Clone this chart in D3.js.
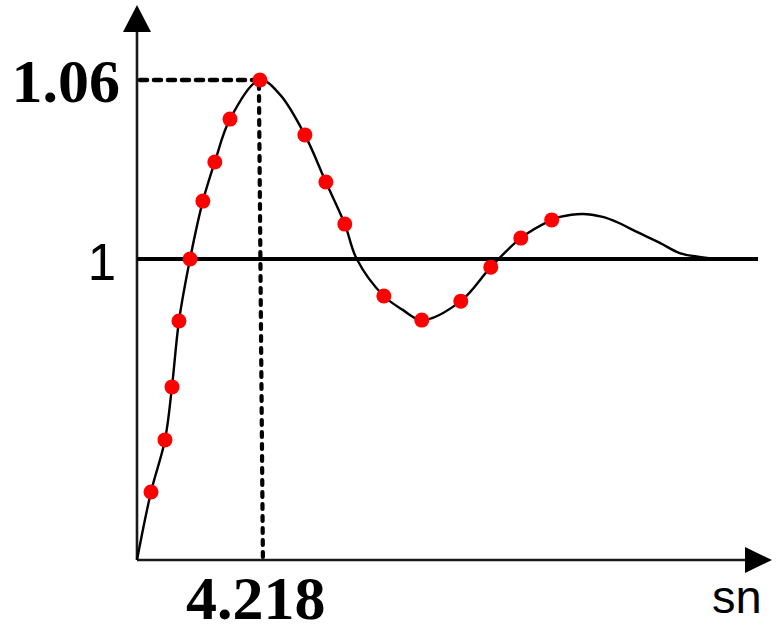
<!DOCTYPE html>
<html><head><meta charset="utf-8">
<script src="https://cdn.jsdelivr.net/npm/d3@7"></script>
<style>html,body{margin:0;padding:0;background:#fff;}svg{display:block;}</style>
</head><body>
<script>
// Schematic step response (y axis is schematic: 0..1 and 1..1.06 drawn on different scales)
const peakX = 4.218, peakY = 1.06, refY = 1;
const markerX = [0.48,0.96,1.20,1.44,1.82,2.26,2.67,3.19,4.218,5.76,6.48,7.13,8.47,9.77,11.11,12.14,13.17,14.23];
const markerY = [0.226,0.399,0.575,0.794,1.0,1.0194,1.0325,1.0469,1.06,1.0416,1.0258,1.0117,0.877,0.797,0.860,0.973,1.0070,1.0131];
const extraX = [0,4.90,7.54,9.12,14.51,15.29,15.98,16.46,17.15,17.94,18.62,19.31,19.89];
const extraY = [0,1.0552,1.0,0.831,1.0141,1.0151,1.0141,1.0124,1.0091,1.0054,1.0020,1.0007,1.0];
const yTickLabels = ["1.06","1"];
const xTickLabels = ["4.218"];
const xAxisLabel = "sn";

const W = 777, H = 627;
const svg = d3.select("body").append("svg").attr("width", W).attr("height", H);
const x = d3.scaleLinear().domain([0, 21]).range([137, 749]);
const y = d3.scaleLinear().domain([0, 1, 1.06]).range([560, 259, 80]);

// axes
svg.append("line").attr("x1", x(0)).attr("x2", x(0)).attr("y1", y(0)).attr("y2", 28)
  .attr("stroke", "#1a1a1a").attr("stroke-width", 2.6);
svg.append("path").attr("d", `M${x(0)},5 L${x(0)-14},32 L${x(0)+14},32 Z`).attr("fill", "#000");
svg.append("line").attr("x1", x(0)).attr("x2", 748).attr("y1", y(0)).attr("y2", y(0))
  .attr("stroke", "#1a1a1a").attr("stroke-width", 2.6);
svg.append("path").attr("d", `M772,${y(0)} L745,${y(0)-13} L745,${y(0)+13} Z`).attr("fill", "#000");

// reference line at 1
svg.append("line").attr("x1", x(0)).attr("x2", 758).attr("y1", y(refY)).attr("y2", y(refY))
  .attr("stroke", "#000").attr("stroke-width", 4);

// dashed guides
svg.append("line").attr("x1", x(0)+3).attr("x2", x(peakX)).attr("y1", y(peakY)).attr("y2", y(peakY))
  .attr("stroke", "#000").attr("stroke-width", 4.5).attr("stroke-dasharray", "7,7")
  .attr("stroke-linecap", "round");
svg.append("line").attr("x1", x(peakX)-1).attr("x2", x(peakX)+3).attr("y1", y(peakY)+4).attr("y2", y(0))
  .attr("stroke", "#000").attr("stroke-width", 4.2).attr("stroke-dasharray", "5,7")
  .attr("stroke-linecap", "round");

// curve
const pts = markerX.map((d,i)=>[d, markerY[i]]).concat(extraX.map((d,i)=>[d, extraY[i]]))
  .sort((a,b)=>a[0]-b[0]);
const line = d3.line().x(d=>x(d[0])).y(d=>y(d[1])).curve(d3.curveCatmullRom.alpha(0.5));
svg.append("path").attr("d", line(pts)).attr("fill", "none").attr("stroke", "#000").attr("stroke-width", 2.4);

// markers
svg.selectAll("circle.m").data(markerX.map((d,i)=>[d, markerY[i]])).enter().append("circle")
  .attr("class","m").attr("cx", d=>x(d[0])).attr("cy", d=>y(d[1])).attr("r", 7.5).attr("fill", "#ff0000");

// labels
svg.append("text").attr("x", 120).attr("y", 102).attr("text-anchor", "end")
  .attr("font-family", "'Liberation Serif','Times New Roman',serif").attr("font-weight", "bold")
  .attr("font-size", 62).text(yTickLabels[0]);
svg.append("text").attr("x", 116).attr("y", 280).attr("text-anchor", "end")
  .attr("font-family", "'Liberation Sans',Arial,sans-serif").attr("font-size", 51).text(yTickLabels[1]);
svg.append("text").attr("x", 186).attr("y", 619)
  .attr("font-family", "'Liberation Serif','Times New Roman',serif").attr("font-weight", "bold")
  .attr("font-size", 62).text(xTickLabels[0]);
svg.append("text").attr("x", 712).attr("y", 613)
  .attr("font-family", "'Liberation Sans',Arial,sans-serif").attr("font-size", 47).text(xAxisLabel);
</script>
</body></html>
